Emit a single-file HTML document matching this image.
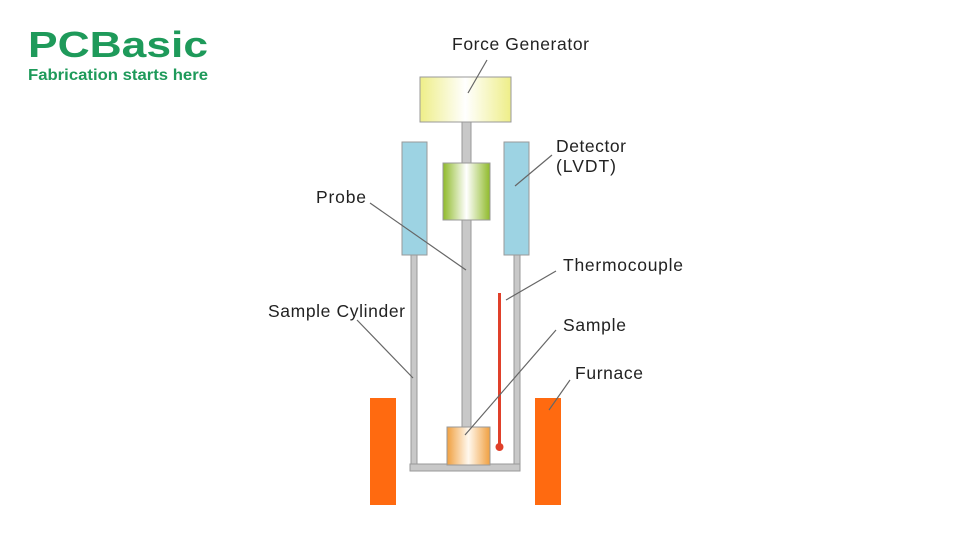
<!DOCTYPE html>
<html><head><meta charset="utf-8"><style>
body{margin:0;width:960px;height:540px;background:#fff;overflow:hidden;font-family:"Liberation Sans",sans-serif}
</style></head><body>
<svg width="960" height="540" xmlns="http://www.w3.org/2000/svg" style="position:absolute;left:0;top:0">
<defs>
<linearGradient id="gy" x1="0" x2="1"><stop offset="0" stop-color="#eeee88"/><stop offset="0.5" stop-color="#ffffff"/><stop offset="1" stop-color="#eeee88"/></linearGradient>
<linearGradient id="gg" x1="0" x2="1"><stop offset="0" stop-color="#8fba2a"/><stop offset="0.5" stop-color="#ffffff"/><stop offset="1" stop-color="#8fba2a"/></linearGradient>
<linearGradient id="go" x1="0" x2="1"><stop offset="0" stop-color="#f0a040"/><stop offset="0.5" stop-color="#fff8ee"/><stop offset="1" stop-color="#f0a040"/></linearGradient>
</defs>
<text x="28" y="57" font-size="36" font-weight="bold" fill="#1e9a5a" textLength="180" lengthAdjust="spacingAndGlyphs">PCBasic</text>
<text x="28" y="80" font-size="16" font-weight="bold" fill="#1e9a5a" textLength="180" lengthAdjust="spacingAndGlyphs">Fabrication starts here</text>
<g stroke="#999" stroke-width="1">
<rect x="462" y="122" width="9" height="306" fill="#c8c8c8"/>
<rect x="411" y="255" width="6" height="212" fill="#c8c8c8"/>
<rect x="514" y="255" width="6" height="212" fill="#c8c8c8"/>
<rect x="410" y="464" width="110" height="7" fill="#c8c8c8"/>
<rect x="420" y="77" width="91" height="45" fill="url(#gy)"/>
<rect x="443" y="163" width="47" height="57" fill="url(#gg)"/>
<rect x="402" y="142" width="25" height="113" fill="#9dd3e3"/>
<rect x="504" y="142" width="25" height="113" fill="#9dd3e3"/>
<rect x="447" y="427" width="43" height="38" fill="url(#go)"/>
</g>
<rect x="498" y="293" width="3" height="152" fill="#e0402a"/>
<circle cx="499.5" cy="447" r="4" fill="#e0402a"/>
<rect x="370" y="398" width="26" height="107" fill="#ff6a10"/>
<rect x="535" y="398" width="26" height="107" fill="#ff6a10"/>
<g stroke="#666" stroke-width="1.2">
<line x1="487" y1="60" x2="468" y2="93"/>
<line x1="552" y1="155" x2="515" y2="186"/>
<line x1="370" y1="203" x2="466" y2="270"/>
<line x1="556" y1="271" x2="506" y2="300"/>
<line x1="556" y1="330" x2="465" y2="435"/>
<line x1="570" y1="380" x2="549" y2="410"/>
<line x1="357" y1="320" x2="413" y2="378"/>
</g>
<g font-size="17.5" fill="#222" lengthAdjust="spacingAndGlyphs">
<text x="452" y="50" textLength="137">Force Generator</text>
<text x="556" y="152" textLength="70">Detector</text>
<text x="556" y="172" textLength="60">(LVDT)</text>
<text x="316" y="203" textLength="50">Probe</text>
<text x="563" y="271" textLength="120">Thermocouple</text>
<text x="563" y="331" textLength="63">Sample</text>
<text x="575" y="379" textLength="68">Furnace</text>
<text x="268" y="317" textLength="137">Sample Cylinder</text>
</g>
</svg>
</body></html>
